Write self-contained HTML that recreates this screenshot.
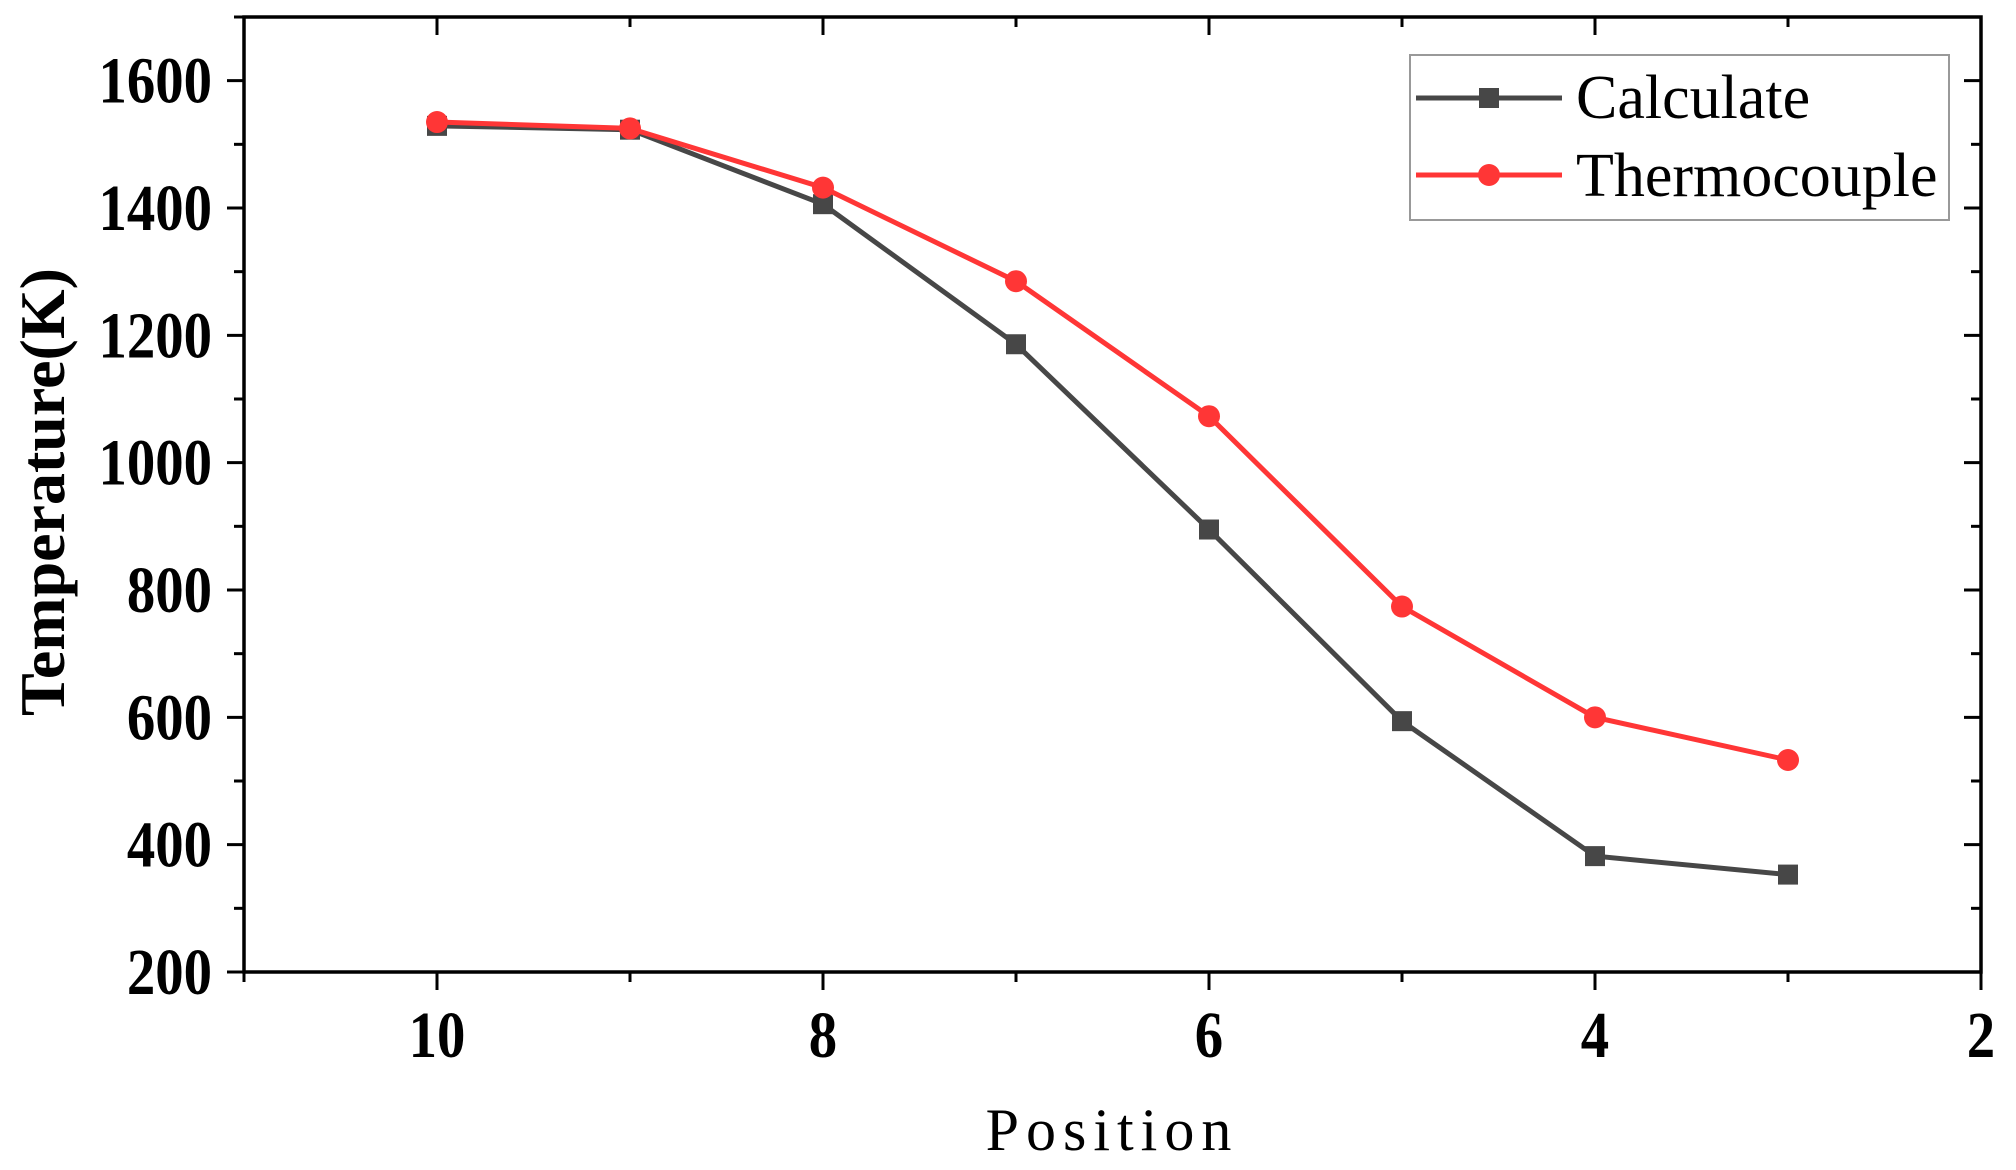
<!DOCTYPE html>
<html><head><meta charset="utf-8"><style>
html,body{margin:0;padding:0;background:#fff;}
svg{display:block;}
</style></head><body>
<svg id="chart" width="2016" height="1170" viewBox="0 0 2016 1170" xmlns="http://www.w3.org/2000/svg">
<g id="marks"></g>
<g id="axes"></g>
</svg>
<script>
const positions = [10, 9, 8, 7, 6, 5, 4, 3];
const calculateVals = [1529, 1523, 1406, 1186, 895, 594, 382, 353];
const thermoVals = [1535, 1525, 1432, 1285, 1073, 774, 600, 533];
const yTicks = [200, 400, 600, 800, 1000, 1200, 1400, 1600];
const xTicks = [10, 8, 6, 4, 2];

const L = 244, R = 1981, T = 17, B = 972;
const xMin = 11, xMax = 2, yMin = 200, yMax = 1700;
function sx(v){ return L + (v - xMin) / (xMax - xMin) * (R - L); }
function sy(v){ return B - (v - yMin) / (yMax - yMin) * (B - T); }

const NS = 'http://www.w3.org/2000/svg';
function mk(tag, attrs, parent){
  const e = document.createElementNS(NS, tag);
  for (const k in attrs) e.setAttribute(k, attrs[k]);
  parent.appendChild(e);
  return e;
}
const axes = document.getElementById('axes');
const marks = document.getElementById('marks');

const frame = mk('rect', {x:L, y:T, width:R-L, height:B-T, fill:'none', stroke:'#000', 'stroke-width':3.5}, axes);



for (let v = 200; v <= 1700; v += 100) {
  const y = sy(v);
  const major = yTicks.includes(v);
  const len = major ? 17 : 10;
  mk('line', {x1:L-len, x2:L, y1:y, y2:y, stroke:'#000', 'stroke-width':3}, axes);
  mk('line', {x1:R, x2:R-len, y1:y, y2:y, stroke:'#000', 'stroke-width':3}, axes);
}
yTicks.forEach(v => {
  const t = mk('text', {x:0, y:0, 'text-anchor':'end', 'font-family':'"Liberation Serif", serif', 'font-weight':'bold', 'font-size':66, transform:'translate(212,' + (sy(v)+22) + ') scale(0.86,1)'}, axes);
  t.textContent = v;
  
  
});
for (let v = 11; v >= 2; v -= 1) {
  const x = sx(v);
  const major = (v % 2 === 0);
  const len = major ? 18 : 10;
  mk('line', {x1:x, x2:x, y1:B, y2:B+len, stroke:'#000', 'stroke-width':3}, axes);
  mk('line', {x1:x, x2:x, y1:T, y2:T+len, stroke:'#000', 'stroke-width':3}, axes);
}
xTicks.forEach(v => {
  const t = mk('text', {x:0, y:0, 'text-anchor':'middle', 'font-family':'"Liberation Serif", serif', 'font-weight':'bold', 'font-size':66, transform:'translate(' + sx(v) + ',1057) scale(0.86,1)'}, axes);
  t.textContent = v;
  
  
});
const xt = mk('text', {x:1112, y:1150, 'text-anchor':'middle', 'font-family':'"Liberation Serif", serif', 'font-size':60, 'letter-spacing':7}, axes);
xt.textContent = 'Position';


const yt = mk('text', {x:0, y:0, 'text-anchor':'middle', 'font-family':'"Liberation Serif", serif', 'font-weight':'bold', 'font-size':64, transform:'translate(64,492) rotate(-90)'}, axes);
yt.textContent = 'Temperature(K)';



function series(vals, color, shape, name){
  const g = mk('g', {}, marks);
  
  
  const pts = positions.map((p,i) => sx(p) + ',' + sy(vals[i])).join(' ');
  mk('polyline', {points:pts, fill:'none', stroke:color, 'stroke-width':5}, g);
  positions.forEach((p,i) => {
    let m;
    if (shape === 'square') m = mk('rect', {x:sx(p)-10, y:sy(vals[i])-10, width:20, height:20, fill:color}, g);
    else m = mk('circle', {cx:sx(p), cy:sy(vals[i]), r:11, fill:color}, g);
    
    
  });
}
series(calculateVals, '#474747', 'square', 'calculate-series');
series(thermoVals, '#ff3636', 'circle', 'thermocouple-series');

const lg = mk('g', {}, axes);


mk('rect', {x:1410, y:55, width:539, height:165, fill:'#fff', stroke:'#999', 'stroke-width':2}, lg);
const e1 = mk('g', {}, lg);


mk('line', {x1:1416, x2:1562, y1:98, y2:98, stroke:'#474747', 'stroke-width':5}, e1);
mk('rect', {x:1479, y:88, width:20, height:20, fill:'#474747'}, e1);
const l1 = mk('text', {x:1576, y:118, 'font-family':'"Liberation Serif", serif', 'font-size':62}, e1);
l1.textContent = 'Calculate';
const e2 = mk('g', {}, lg);


mk('line', {x1:1416, x2:1562, y1:175, y2:175, stroke:'#ff3636', 'stroke-width':5}, e2);
mk('circle', {cx:1489, cy:175, r:11, fill:'#ff3636'}, e2);
const l2 = mk('text', {x:1576, y:196, 'font-family':'"Liberation Serif", serif', 'font-size':62}, e2);
l2.textContent = 'Thermocouple';
</script>
</body></html>
